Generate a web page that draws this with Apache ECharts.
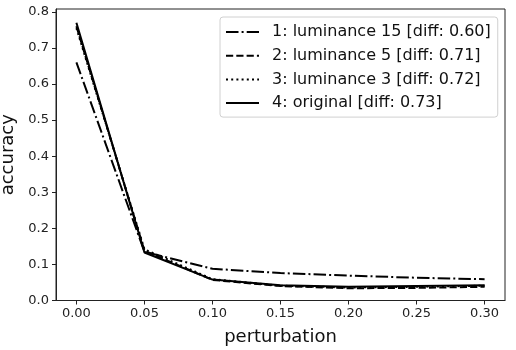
<!DOCTYPE html>
<html>
<head>
<meta charset="utf-8">
<script src="https://cdn.jsdelivr.net/npm/echarts@6/dist/echarts.min.js"></script>
<style>html,body{margin:0;padding:0;background:#fff;}#c{width:516px;height:350px;}</style>
</head>
<body>
<div id="c"></div>
<script>
const perturbation = [0.00, 0.05, 0.10, 0.15, 0.20, 0.25, 0.30];
const seriesNames = [
  '1: luminance 15 [diff: 0.60]',
  '2: luminance 5 [diff: 0.71]',
  '3: luminance 3 [diff: 0.72]',
  '4: original [diff: 0.73]'
];
const lum15 = [0.660, 0.135, 0.088, 0.076, 0.069, 0.063, 0.059];
const lum5 = [0.760, 0.138, 0.057, 0.040, 0.034, 0.035, 0.038];
const lum3 = [0.755, 0.142, 0.059, 0.041, 0.036, 0.038, 0.041];
const original = [0.770, 0.133, 0.058, 0.042, 0.038, 0.040, 0.042];
const xTicks = [0.00, 0.05, 0.10, 0.15, 0.20, 0.25, 0.30];
const yTicks = [0.0, 0.1, 0.2, 0.3, 0.4, 0.5, 0.6, 0.7, 0.8];

const font = 'DejaVu Sans';
const dashes = [[12.5, 3.1, 2, 3.1], [7.2, 3.1], [2, 3.2], 'solid'];
const allData = [lum15, lum5, lum3, original];

const chart = echarts.init(document.getElementById('c'), null, {renderer: 'canvas'});
chart.setOption({
  animation: false,
  backgroundColor: '#fff',
  grid: {left: 56, right: 11, top: 9, bottom: 49.5, show: true, borderColor: '#222', borderWidth: 1, outerBoundsMode: 'none'},
  xAxis: {
    type: 'value', min: -0.015, max: 0.315,
    name: 'perturbation', nameLocation: 'middle', nameGap: 28,
    nameTextStyle: {fontFamily: font, fontSize: 18, color: '#111'},
    axisLine: {show: true, onZero: false, lineStyle: {color: '#222', width: 1}},
    axisTick: {show: true, inside: false, length: 4, customValues: xTicks, lineStyle: {color: '#222'}},
    axisLabel: {customValues: xTicks, formatter: v => v.toFixed(2), fontFamily: font, fontSize: 13, color: '#222', margin: 7},
    splitLine: {show: false}
  },
  yAxis: {
    type: 'value', min: 0, max: 0.808,
    name: 'accuracy', nameLocation: 'middle', nameGap: 35, nameRotate: 90,
    nameTextStyle: {fontFamily: font, fontSize: 18, color: '#111'},
    axisLine: {show: true, onZero: false, lineStyle: {color: '#222', width: 1}},
    axisTick: {show: true, inside: false, length: 4, customValues: yTicks, lineStyle: {color: '#222'}},
    axisLabel: {customValues: yTicks, formatter: v => v.toFixed(1), fontFamily: font, fontSize: 13, color: '#222', margin: 7},
    splitLine: {show: false}
  },
  legend: {
    show: true,
    orient: 'vertical', left: 220, top: 17,
    padding: [7, 7, 6, 5],
    itemWidth: 33, itemHeight: 16, itemGap: 7.7,
    backgroundColor: 'rgba(255,255,255,0.85)', borderColor: '#d0d0d0', borderWidth: 1, borderRadius: 3,
    itemStyle: {opacity: 0, color: 'rgba(0,0,0,0)', borderWidth: 0},
    textStyle: {fontFamily: font, fontSize: 16, color: '#111', padding: [0, 0, 0, 8], lineHeight: 16},
    data: seriesNames.slice()
  },
  series: seriesNames.map((n, i) => ({
    name: n, type: 'line', showSymbol: false, symbol: 'none',
    data: perturbation.map((x, j) => [x, allData[i][j]]),
    lineStyle: {color: '#000', width: 2, type: dashes[i]},
    itemStyle: {color: '#000'},
    z: 10 - i
  }))
});
</script>
</body>
</html>
